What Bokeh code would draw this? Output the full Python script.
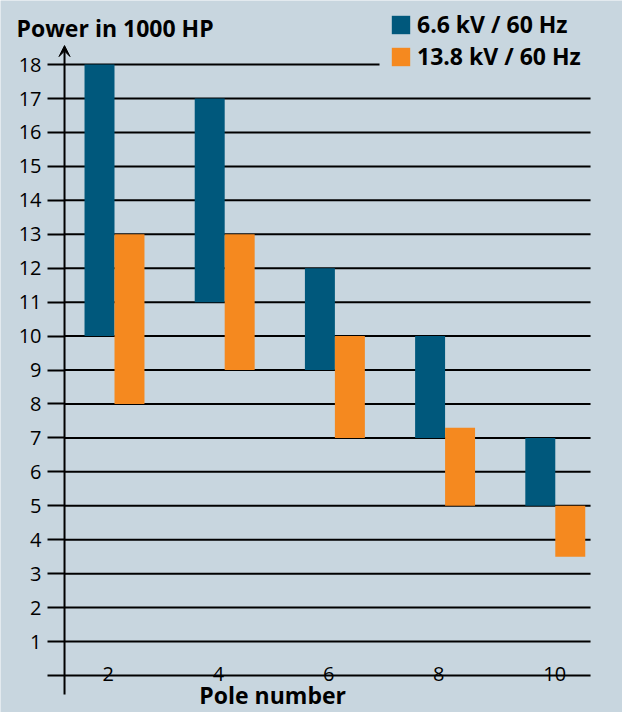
from bokeh.plotting import figure
from bokeh.models import (Range1d, FixedTicker, Legend, LegendItem, Label, Arrow, VeeHead)
from bokeh.core.properties import value
from bokeh.embed import file_html
from bokeh.resources import INLINE

# ---- data ----
poles = [2, 4, 6, 8, 10]
pole_labels = ["2", "4", "6", "8", "10"]
kv66_low = [10, 11, 9, 7, 5]
kv66_high = [18, 17, 12, 10, 7]
kv138_low = [8, 9, 7, 5, 3.5]
kv138_high = [13, 13, 10, 7.3, 5]
y_ticks = list(range(0, 19))
series_names = ["6.6 kV / 60 Hz", "13.8 kV / 60 Hz"]

BG = "#C8D6DF"
BLUE = "#00587C"
ORANGE = "#F5891F"
FONT = "Open Sans"

# plot geometry in data units
ax_x = 1.093          # position of the vertical axis
grid_end = 10.64      # right end of horizontal lines
top_line_end = 6.81   # top line stops before the legend
ax_y0, ax_y1 = -0.56, 18.56
bw = 0.544

p = figure(width=622, height=712, output_backend="svg", toolbar_location=None,
           x_range=Range1d(-0.069, 11.22), y_range=Range1d(-1.090, 19.888),
           x_axis_location=None, min_border=0)
p.outline_line_color = None
p.background_fill_color = BG
p.border_fill_color = BG
p.xgrid.visible = False
p.ygrid.visible = False

ax = p.yaxis[0]
ax.fixed_location = ax_x
ax.ticker = FixedTicker(ticks=y_ticks)
ax.major_label_overrides = {0: ""}
ax.major_tick_out = 17
ax.major_tick_in = 0
ax.minor_tick_line_color = None
ax.major_tick_line_width = 2
ax.major_tick_line_color = "black"
ax.axis_line_color = None
ax.major_label_text_font = FONT
ax.major_label_text_font_size = "20px"
ax.major_label_text_color = "black"
ax.major_label_standoff = 6

# horizontal lines
n = len(y_ticks) - 1
p.segment(x0=[ax_x] * n, y0=y_ticks[:-1], x1=[grid_end] * n, y1=y_ticks[:-1],
          line_color="black", line_width=2)
p.segment(x0=[ax_x], y0=[y_ticks[-1]], x1=[top_line_end], y1=[y_ticks[-1]],
          line_color="black", line_width=2)

left_b = [v - bw for v in poles]
right_o = [v + bw for v in poles]
rb = p.quad(left=left_b, right=poles, bottom=kv66_low, top=kv66_high,
            fill_color=BLUE, line_color=None)
ro = p.quad(left=poles, right=right_o, bottom=kv138_low, top=kv138_high,
            fill_color=ORANGE, line_color=None)

# x tick labels
p.text(x=poles, y=[0] * len(poles), text=pole_labels, text_align="left",
       text_baseline="alphabetic", x_offset=-12, y_offset=-2,
       text_font=value(FONT), text_font_size="20px", text_color="black")

# vertical axis line with arrow head
p.add_layout(Arrow(end=VeeHead(size=11, fill_color="black", line_color="black", line_width=1),
                   x_start=ax_x, y_start=ax_y0, x_end=ax_x, y_end=ax_y1,
                   line_color="black", line_width=2))

legend = Legend(items=[LegendItem(label=series_names[0], renderers=[rb]),
                       LegendItem(label=series_names[1], renderers=[ro])],
                location=(389, 640), orientation="vertical",
                glyph_width=23, glyph_height=23, label_height=23, spacing=-2,
                padding=0, margin=0, label_standoff=5,
                label_text_font=FONT, label_text_font_style="bold",
                label_text_font_size="23px", label_text_color="black",
                border_line_alpha=0, background_fill_alpha=0)
p.add_layout(legend)

p.add_layout(Label(x=0.2214, y=19.09, text="Power in 1000 HP", text_align="left",
                   text_baseline="alphabetic", text_font=FONT, text_font_style="bold",
                   text_font_size="23px", text_color="black"))
p.add_layout(Label(x=4.87, y=-0.56, text="Pole number", text_align="center",
                   text_baseline="alphabetic", text_font=FONT, text_font_style="bold",
                   text_font_size="23px", text_color="black"))

open("out.html", "w").write(file_html(p, INLINE))
